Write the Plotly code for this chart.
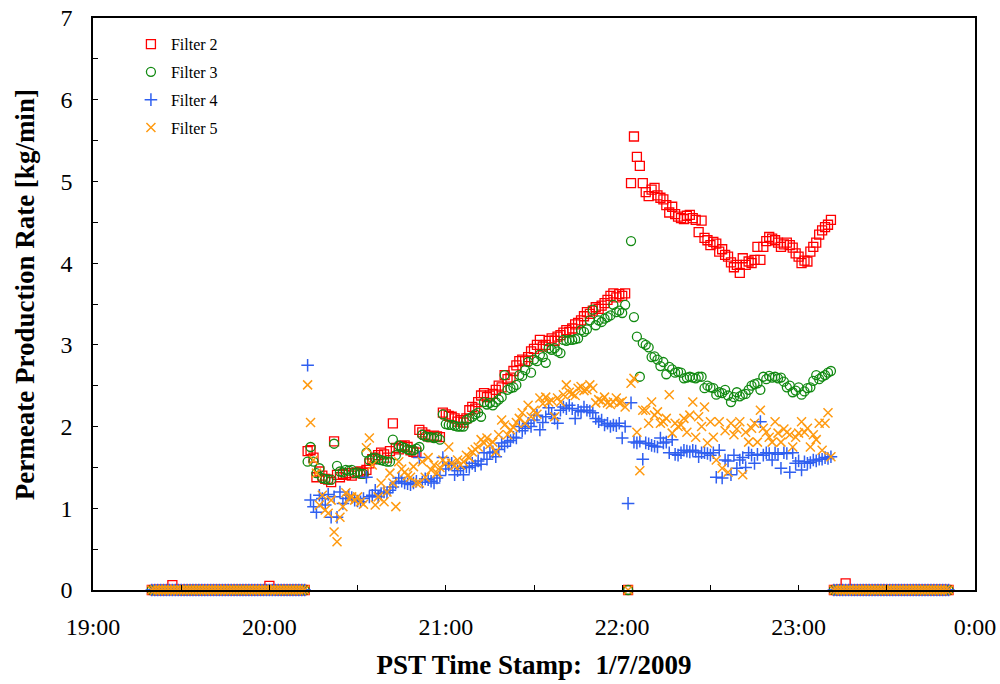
import plotly.graph_objects as go

# ---- time grid (clock minutes after 19:00, one sample per minute) ----
idle_before_min = list(range(20, 73))    # 19:20 .. 20:12
run1_min = list(range(73, 182))          # 20:13 .. 22:01
pause_min = [182]                        # 22:02
run2_min = list(range(183, 252))         # 22:03 .. 23:11
idle_after_min = list(range(252, 292))   # 23:12 .. 23:51

x_tick_vals = [19, 19.5, 20, 20.5, 21, 21.5, 22, 22.5, 23, 23.5, 24]
x_tick_text = ["19:00", "", "20:00", "", "21:00", "", "22:00", "", "23:00", "", "0:00"]
y_tick_vals = [0, 0.5, 1, 1.5, 2, 2.5, 3, 3.5, 4, 4.5, 5, 5.5, 6, 6.5, 7]
y_tick_text = ["0", "", "1", "", "2", "", "3", "", "4", "", "5", "", "6", "", "7"]

# ---- idle periods (kg/min) ----
idle_before_zero = [0, 0, 0, 0, 0, 0, 0, 0, 0, 0,
                    0, 0, 0, 0, 0, 0, 0, 0, 0, 0,
                    0, 0, 0, 0, 0, 0, 0, 0, 0, 0,
                    0, 0, 0, 0, 0, 0, 0, 0, 0, 0,
                    0, 0, 0, 0, 0, 0, 0, 0, 0, 0,
                    0, 0, 0]
f2_idle_before = [0, 0, 0, 0, 0, 0, 0, 0.06, 0, 0,
                  0, 0, 0, 0, 0, 0, 0, 0, 0, 0,
                  0, 0, 0, 0, 0, 0, 0, 0, 0, 0,
                  0, 0, 0, 0, 0, 0, 0, 0, 0, 0,
                  0.05, 0, 0, 0, 0, 0, 0, 0, 0, 0,
                  0, 0, 0]
idle_after_zero = [0, 0, 0, 0, 0, 0, 0, 0, 0, 0,
                   0, 0, 0, 0, 0, 0, 0, 0, 0, 0,
                   0, 0, 0, 0, 0, 0, 0, 0, 0, 0,
                   0, 0, 0, 0, 0, 0, 0, 0, 0, 0]
f2_idle_after = [0, 0, 0, 0, 0.08, 0, 0, 0, 0, 0,
                 0, 0, 0, 0, 0, 0, 0, 0, 0, 0,
                 0, 0, 0, 0, 0, 0, 0, 0, 0, 0,
                 0, 0, 0, 0, 0, 0, 0, 0, 0, 0]

# ---- Filter 2 ----
f2_run1 = [1.70, 1.71, 1.62, 1.38, 1.45, 1.40, 1.36, 1.35, 1.32, 1.82,
           1.41, 1.38, 1.42, 1.41, 1.43, 1.40, 1.43, 1.44, 1.45, 1.43,
           1.47, 1.55, 1.60, 1.62, 1.65, 1.68, 1.66, 1.62, 1.70, 2.04,
           1.74, 1.72, 1.76, 1.77, 1.75, 1.71, 1.69, 1.68, 1.96, 1.93,
           1.90, 1.88, 1.87, 1.89, 1.88, 1.87, 2.17, 2.15, 2.13, 2.12,
           2.10, 2.06, 2.08, 2.05, 2.10, 2.20, 2.24, 2.22, 2.30, 2.38,
           2.41, 2.36, 2.38, 2.40, 2.45, 2.50, 2.48, 2.63, 2.58, 2.60,
           2.68, 2.75, 2.80, 2.82, 2.80, 2.85, 2.92, 2.95, 3.00, 3.06,
           2.98, 3.00, 3.05, 3.08, 3.05, 3.10, 3.12, 3.15, 3.18, 3.16,
           3.20, 3.25, 3.27, 3.30, 3.35, 3.40, 3.38, 3.42, 3.46, 3.44,
           3.48, 3.51, 3.55, 3.60, 3.63, 3.58, 3.62, 3.60, 3.63]
f2_pause = [0]
f2_run2 = [4.98, 5.55, 5.30, 5.19, 4.98, 4.87, 4.82, 4.90, 4.92, 4.83,
           4.80, 4.78, 4.71, 4.62, 4.69, 4.60, 4.57, 4.55, 4.54, 4.58,
           4.59, 4.55, 4.53, 4.38, 4.52, 4.31, 4.28, 4.22, 4.26, 4.24,
           4.14, 4.17, 4.10, 4.08, 4.01, 3.95, 3.98, 3.88, 4.06, 3.98,
           4.02, 4.00, 4.04, 4.20, 4.04, 4.20, 4.27, 4.32, 4.30, 4.28,
           4.25, 4.20, 4.23, 4.25, 4.22, 4.19, 4.12, 4.08, 4.00, 4.03,
           4.02, 4.14, 4.20, 4.25, 4.35, 4.40, 4.44, 4.47, 4.53]

# ---- Filter 3 ----
f3_run1 = [1.57, 1.75, 1.57, 1.43, 1.49, 1.37, 1.36, 1.35, 1.35, 1.79,
           1.52, 1.45, 1.44, 1.47, 1.46, 1.47, 1.43, 1.44, 1.42, 1.42,
           1.68, 1.59, 1.61, 1.62, 1.60, 1.59, 1.58, 1.57, 1.57, 1.84,
           1.65, 1.77, 1.75, 1.74, 1.72, 1.71, 1.71, 1.73, 1.75, 1.90,
           1.88, 1.87, 1.87, 1.86, 1.87, 1.84, 2.15, 2.03, 2.02, 2.02,
           2.01, 2.00, 2.00, 2.00, 2.08, 2.10, 2.12, 2.15, 2.17, 2.12,
           2.30, 2.27, 2.29, 2.26, 2.30, 2.33, 2.36, 2.63, 2.45, 2.47,
           2.48, 2.51, 2.63, 2.62, 2.69, 2.79, 2.66, 2.82, 2.80, 2.88,
           2.85, 2.78, 2.96, 2.94, 2.96, 2.92, 2.90, 3.06, 3.05, 3.06,
           3.06, 3.07, 3.08, 3.18, 3.16, 3.19, 3.30, 3.43, 3.24, 3.30,
           3.28, 3.32, 3.34, 3.36, 3.49, 3.40, 3.42, 3.39, 3.49]
f3_pause = [0]
f3_run2 = [4.27, 3.34, 3.10, 2.61, 3.02, 3.00, 2.97, 2.85, 2.86, 2.82,
           2.74, 2.79, 2.64, 2.73, 2.70, 2.66, 2.67, 2.66, 2.59, 2.60,
           2.61, 2.60, 2.59, 2.61, 2.61, 2.47, 2.50, 2.48, 2.47, 2.39,
           2.42, 2.41, 2.45, 2.38, 2.30, 2.36, 2.42, 2.37, 2.39, 2.40,
           2.45, 2.50, 2.52, 2.53, 2.45, 2.61, 2.58, 2.62, 2.60, 2.61,
           2.59, 2.60, 2.55, 2.48, 2.50, 2.42, 2.44, 2.48, 2.39, 2.43,
           2.47, 2.48, 2.56, 2.63, 2.58, 2.61, 2.63, 2.66, 2.68]

# ---- Filter 4 ----
f4_run1 = [2.75, 1.10, 1.02, 0.95, 1.16, 1.12, 1.04, 1.17, 0.89, 1.14,
           0.89, 1.20, 1.06, 1.12, 1.16, 1.13, 1.10, 1.09, 1.08, 1.12,
           1.38, 1.14, 1.16, 1.22, 1.14, 1.18, 1.20, 1.19, 1.22, 1.26,
           1.31, 1.37, 1.33, 1.31, 1.30, 1.29, 1.31, 1.33, 1.62, 1.32,
           1.36, 1.35, 1.33, 1.31, 1.37, 1.40, 1.62, 1.48, 1.53, 1.55,
           1.41, 1.46, 1.49, 1.41, 1.51, 1.50, 1.55, 1.52, 1.58, 1.54,
           1.68, 1.60, 1.68, 1.69, 1.63, 1.72, 1.80, 1.76, 1.81, 1.83,
           1.87, 1.86, 2.00, 1.95, 1.98, 2.04, 2.00, 2.08, 2.14, 1.96,
           2.05, 2.12, 2.23, 2.15, 2.10, 2.04, 2.20, 2.24, 2.22, 2.26,
           2.22, 2.10, 2.20, 2.18, 2.24, 2.20, 2.19, 2.17, 2.10, 2.06,
           2.08, 2.02, 2.04, 2.00, 2.02, 2.01, 2.04, 1.86, 2.00]
f4_pause = [1.06]
f4_run2 = [2.29, 1.81, 1.80, 1.82, 1.60, 1.80, 1.79, 1.77, 1.76, 1.75,
           1.86, 1.80, 1.81, 1.68, 1.84, 1.66, 1.65, 1.68, 1.71, 1.70,
           1.69, 1.71, 1.70, 1.63, 1.68, 1.68, 1.67, 1.65, 1.68, 1.38,
           1.71, 1.37, 1.59, 1.58, 1.41, 1.65, 1.49, 1.59, 1.62, 1.50,
           1.68, 1.65, 1.55, 1.66, 2.06, 1.65, 1.68, 1.67, 1.59, 1.68,
           1.66, 1.49, 1.68, 1.67, 1.44, 1.68, 1.55, 1.58, 1.47, 1.57,
           1.55, 1.56, 1.59, 1.58, 1.60, 1.60, 1.62, 1.61, 1.63]

# ---- Filter 5 ----
f5_run1 = [2.51, 2.05, 1.59, 1.43, 1.04, 1.16, 0.98, 0.94, 1.10, 0.71,
           0.59, 0.89, 1.02, 1.19, 1.12, 1.14, 1.10, 1.14, 1.08, 1.05,
           1.74, 1.86, 1.53, 1.04, 1.14, 1.31, 1.08, 1.20, 1.43, 1.31,
           1.02, 1.57, 1.48, 1.44, 1.40, 1.38, 1.51, 1.31, 1.31, 1.57,
           1.38, 1.62, 1.47, 1.53, 1.43, 1.50, 1.59, 1.55, 1.75, 1.55,
           1.52, 1.59, 1.53, 1.57, 1.65, 1.62, 1.69, 1.72, 1.75, 1.84,
           1.80, 1.86, 1.78, 1.81, 1.69, 1.90, 2.08, 2.02, 1.90, 1.96,
           1.99, 2.05, 2.10, 2.17, 2.04, 2.26, 2.12, 2.20, 2.15, 2.35,
           2.28, 2.36, 2.30, 2.32, 2.12, 2.35, 2.30, 2.39, 2.51, 2.42,
           2.40, 2.38, 2.47, 2.49, 2.44, 2.45, 2.51, 2.47, 2.29, 2.33,
           2.31, 2.36, 2.29, 2.27, 2.30, 2.35, 2.29, 2.31, 2.24]
f5_pause = [0]
f5_run2 = [2.53, 2.59, 1.93, 1.46, 2.20, 2.20, 2.04, 2.30, 2.14, 2.18,
           2.04, 2.06, 2.10, 2.39, 1.92, 2.04, 2.00, 2.02, 2.10, 1.93,
           2.14, 2.30, 1.87, 2.12, 2.00, 2.24, 1.80, 2.06, 1.87, 1.59,
           2.06, 1.49, 1.95, 1.44, 2.04, 1.90, 1.97, 2.06, 1.41, 1.93,
           1.81, 1.98, 2.04, 1.81, 2.20, 1.98, 1.93, 1.87, 1.81, 2.06,
           1.92, 1.81, 1.97, 1.93, 1.90, 1.75, 1.87, 1.92, 2.06, 1.93,
           1.98, 1.75, 1.90, 1.84, 2.04, 1.71, 2.04, 2.17, 1.63]

all_min = idle_before_min + run1_min + pause_min + run2_min + idle_after_min
x_hours = [19 + m / 60.0 for m in all_min]

series = [
    ("Filter 2", f2_idle_before + f2_run1 + f2_pause + f2_run2 + f2_idle_after,
     "square-open", "#FF0000", 9, 1.3),
    ("Filter 3", idle_before_zero + f3_run1 + f3_pause + f3_run2 + idle_after_zero,
     "circle-open", "#128A12", 9, 1.3),
    ("Filter 4", idle_before_zero + f4_run1 + f4_pause + f4_run2 + idle_after_zero,
     "cross-thin-open", "#2F5FF0", 9, 1.5),
    ("Filter 5", idle_before_zero + f5_run1 + f5_pause + f5_run2 + idle_after_zero,
     "x-thin-open", "#FF9A10", 9, 1.5),
]

fig = go.Figure()
for name, vals, sym, col, size, lw in series:
    fig.add_trace(go.Scatter(
        x=x_hours, y=vals, mode="markers", name=name, legendgroup=name,
        cliponaxis=False,
        marker=dict(symbol=sym, size=size, color=col, line=dict(width=lw, color=col)),
    ))

axis_font = dict(family="Liberation Serif", size=24, color="black")
title_font = dict(family="Liberation Serif", size=27, color="black")
fig.update_layout(
    width=1000, height=684,
    margin=dict(l=93, r=25, t=18, b=94),
    paper_bgcolor="white", plot_bgcolor="white",
    font=dict(family="Liberation Serif", color="black"),
    showlegend=True,
    legend=dict(x=0.043, y=0.984, xanchor="left", yanchor="top",
                bgcolor="rgba(0,0,0,0)", font=dict(family="Liberation Serif", size=16, color="black"),
                traceorder="grouped", tracegroupgap=4, itemwidth=30),
    xaxis=dict(range=[19, 24], tickmode="array", tickvals=x_tick_vals, ticktext=x_tick_text,
               ticks="inside", ticklen=5, tickwidth=1, tickcolor="black",
               showline=True, linecolor="black", linewidth=1.5, mirror=True,
               showgrid=False, zeroline=False, tickfont=axis_font, ticklabelstandoff=14,
               automargin=False,
               title=dict(text="<b>PST Time Stamp:\u00a0 1/7/2009</b>",
                          font=title_font, standoff=17)),
    yaxis=dict(range=[0, 7], tickmode="array", tickvals=y_tick_vals, ticktext=y_tick_text,
               ticks="inside", ticklen=5, tickwidth=1, tickcolor="black",
               showline=True, linecolor="black", linewidth=1.5, mirror=True,
               showgrid=False, zeroline=False, tickfont=axis_font, ticklabelstandoff=14,
               automargin=False),
    annotations=[dict(text="<b>Permeate Production Rate [kg/min]</b>",
                      xref="paper", yref="paper", x=-0.0771, y=0.517,
                      xanchor="center", yanchor="middle", textangle=-90,
                      showarrow=False, font=title_font)],
)

fig.write_html("out.html")
